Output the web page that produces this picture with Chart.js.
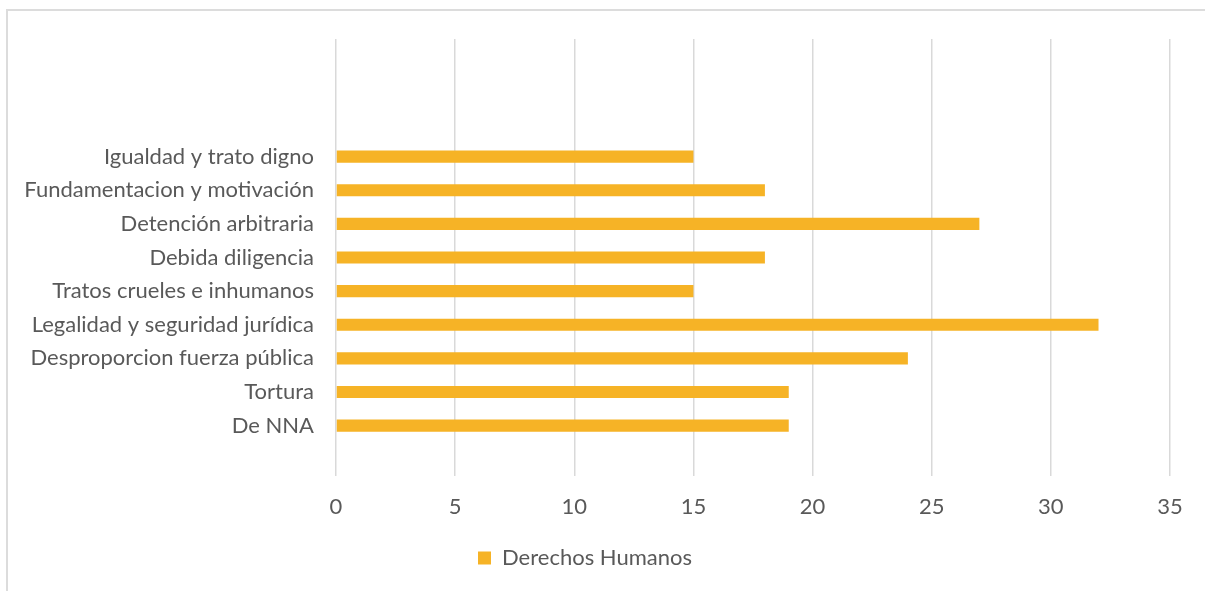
<!DOCTYPE html>
<html>
<head>
<meta charset="utf-8">
<script src="https://cdn.jsdelivr.net/npm/chart.js@4/dist/chart.umd.min.js"></script>
<style>
  html, body { margin: 0; padding: 0; background: #fff; }
  #wrap { position: relative; width: 1205px; height: 591px; overflow: hidden; }
  #frame { position: absolute; left: 6px; top: 9px; width: 1220px; height: 600px;
           border-left: 2px solid #dcdcdc; border-top: 2px solid #dcdcdc; pointer-events: none; }
</style>
</head>
<body>
<div id="wrap">
  <canvas id="chart" width="1205" height="591"></canvas>
  <div id="frame"></div>
</div>
<script>
// categories top to bottom, as they appear in the picture
const categorias = [
  "Igualdad y trato digno",
  "Fundamentacion y motivación",
  "Detención arbitraria",
  "Debida diligencia",
  "Tratos crueles e inhumanos",
  "Legalidad y seguridad jurídica",
  "Desproporcion fuerza pública",
  "Tortura",
  "De NNA"
];
const derechosHumanos = [15, 18, 27, 18, 15, 32, 24, 19, 19];
const xTicks = [0, 5, 10, 15, 20, 25, 30, 35];

// the reference leaves three empty rows above and one below the bars
const labels = ["", "", "", ...categorias, ""];
const values = [null, null, null, ...derechosHumanos, null];

const gris = "#595959";
const fuente = { family: "Lato", size: 22 };

const ctx = document.getElementById("chart").getContext("2d");
new Chart(ctx, {
  type: "bar",
  data: {
    labels: labels,
    datasets: [{
      label: "Derechos Humanos",
      data: values,
      backgroundColor: "#F6B326",
      barPercentage: 0.36,
      categoryPercentage: 1
    }]
  },
  options: {
    indexAxis: "y",
    responsive: false,
    animation: false,
    layout: { padding: { top: 39, right: 35, left: 0, bottom: 12 } },
    scales: {
      x: {
        min: 0,
        max: 35,
        afterBuildTicks: (scale) => { scale.ticks = xTicks.map(v => ({ value: v })); },
        afterFit: (scale) => { scale.height = 61; },
        grid: { color: "#d9d9d9", lineWidth: 1.5, drawTicks: false },
        border: { display: false },
        ticks: { color: gris, font: fuente, padding: 18 }
      },
      y: {
        afterFit: (scale) => { scale.width = 336; },
        grid: { display: false },
        border: { display: false },
        ticks: { color: gris, font: fuente, padding: 14, autoSkip: false }
      }
    },
    plugins: {
      legend: {
        position: "bottom",
        labels: { color: gris, font: fuente, boxWidth: 13, boxHeight: 13, padding: 10 }
      },
      tooltip: { enabled: false }
    }
  }
});
</script>
</body>
</html>
